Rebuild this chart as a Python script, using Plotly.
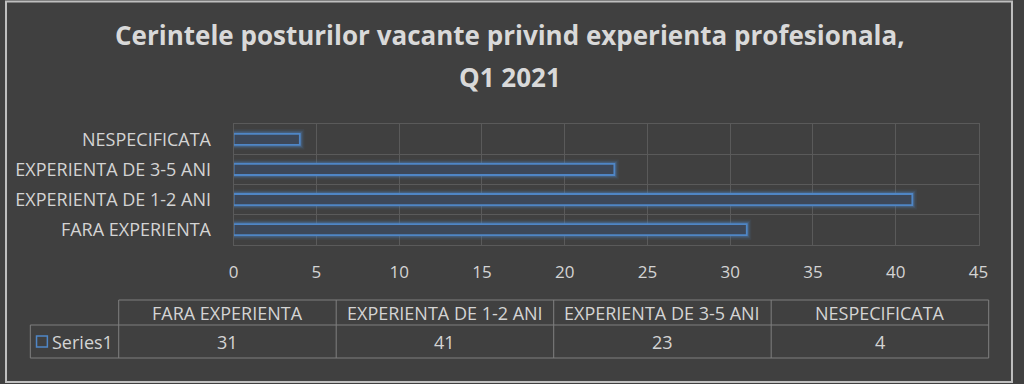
import plotly.graph_objects as go

# ---- data ----
categories = ["FARA EXPERIENTA", "EXPERIENTA DE 1-2 ANI", "EXPERIENTA DE 3-5 ANI", "NESPECIFICATA"]
values = [31, 41, 23, 4]
series_name = "Series1"
title_lines = ["Cerintele posturilor vacante privind experienta profesionala,", "Q1 2021"]
x_ticks = [0, 5, 10, 15, 20, 25, 30, 35, 40, 45]

# ---- style ----
W, H = 1024, 384
BG = "#404040"
TXT = "#d4d4d4"
GRID = "#5a5a5a"
TLINE = "#7f7f7f"
BLUE = "#4f86c6"
FILL = "#3d4859"
FONT = "Open Sans"

def px_x(x):
    return x / W

def px_y(y):
    return 1 - y / H

fig = go.Figure()

# glow layers
for w, a in [(9, 0.10), (6, 0.16), (4, 0.25)]:
    fig.add_trace(go.Bar(
        x=values, y=categories, orientation="h",
        marker=dict(color="rgba(0,0,0,0)", line=dict(color=f"rgba(79,134,198,{a})", width=w)),
        hoverinfo="skip", showlegend=False,
    ))
fig.add_trace(go.Bar(
    x=values, y=categories, orientation="h", name=series_name,
    marker=dict(color=FILL, line=dict(color=BLUE, width=1.8)),
    showlegend=False,
))

fig.update_layout(
    autosize=True,
    margin=dict(l=0, r=0, t=0, b=0),
    paper_bgcolor=BG, plot_bgcolor=BG,
    barmode="overlay", bargap=0.63,
    font=dict(family=FONT, color=TXT),
    xaxis=dict(
        domain=[px_x(232), px_x(988)],
        range=[0, 45], tickvals=x_ticks,
        showgrid=True, gridcolor=GRID, gridwidth=1,
        showline=True, linecolor=GRID, mirror=True,
        zeroline=False,
        ticks="outside", ticklen=12, tickcolor="rgba(0,0,0,0)",
        tickfont=dict(size=17, color=TXT),
        fixedrange=True,
    ),
    yaxis=dict(
        domain=[px_y(244.7), px_y(124.3)],
        type="category", tickson="boundaries",
        showgrid=True, gridcolor=GRID, gridwidth=1,
        showline=True, linecolor=GRID, mirror=True,
        ticks="", ticklabelstandoff=18,
        tickfont=dict(size=18, color=TXT),
        fixedrange=True,
    ),
)

# title
for i, (line, yc) in enumerate(zip(title_lines, [35, 77])):
    fig.add_annotation(
        xref="paper", yref="paper", x=0.5, y=px_y(yc),
        text=f"<b>{line}</b>", showarrow=False, xanchor="center", yanchor="middle",
        font=dict(size=26, color="#d9d9d9", family=FONT),
    )

# ---- data table below the chart ----
t_left_label = 25.7
t_left = 115.4
t_right = 998.3
col_w = (t_right - t_left) / len(categories)
y_top, y_mid, y_bot = 300, 325, 358

def hline(x0, x1, y):
    fig.add_shape(type="line", xref="paper", yref="paper",
                  x0=px_x(x0), x1=px_x(x1), y0=px_y(y), y1=px_y(y),
                  line=dict(color=TLINE, width=1))

def vline(x, y0, y1):
    fig.add_shape(type="line", xref="paper", yref="paper",
                  x0=px_x(x), x1=px_x(x), y0=px_y(y0), y1=px_y(y1),
                  line=dict(color=TLINE, width=1))

hline(t_left, t_right, y_top)
hline(t_left_label, t_right, y_mid)
hline(t_left_label, t_right, y_bot)
vline(t_left_label, y_mid, y_bot)
for i in range(len(categories) + 1):
    vline(t_left + i * col_w, y_top, y_bot)

for i, (c, v) in enumerate(zip(categories, values)):
    xc = t_left + (i + 0.5) * col_w
    fig.add_annotation(xref="paper", yref="paper", x=px_x(xc), y=px_y((y_top + y_mid) / 2),
                       text=c, showarrow=False, xanchor="center", yanchor="middle",
                       font=dict(size=18, color=TXT))
    fig.add_annotation(xref="paper", yref="paper", x=px_x(xc), y=px_y((y_mid + y_bot) / 2),
                       text=str(v), showarrow=False, xanchor="center", yanchor="middle",
                       font=dict(size=18, color=TXT))

# legend key in table
fig.add_shape(type="rect", xref="paper", yref="paper",
              x0=px_x(32), x1=px_x(43), y0=px_y(347), y1=px_y(336),
              line=dict(color=BLUE, width=1.5), fillcolor=BG)
fig.add_annotation(xref="paper", yref="paper", x=px_x(46), y=px_y(341.5),
                   text=series_name, showarrow=False, xanchor="left", yanchor="middle",
                   font=dict(size=18, color=TXT))

# outer border
fig.add_shape(type="rect", xref="paper", yref="paper",
              x0=0.001, x1=0.998, y0=0.005, y1=0.996,
              line=dict(color="#bfbfbf", width=2), fillcolor="rgba(0,0,0,0)")

fig.write_html(
    "out.html",
    config={"displayModeBar": False, "responsive": True},
    default_width="100vw",
    default_height="100vh",
    post_script=(
        "document.documentElement.style.margin='0';"
        "document.body.style.margin='0';"
        "document.body.style.overflow='hidden';"
        "document.documentElement.style.overflow='hidden';"
        "Plotly.Plots.resize(document.getElementById('{plot_id}'));"
    ),
)
